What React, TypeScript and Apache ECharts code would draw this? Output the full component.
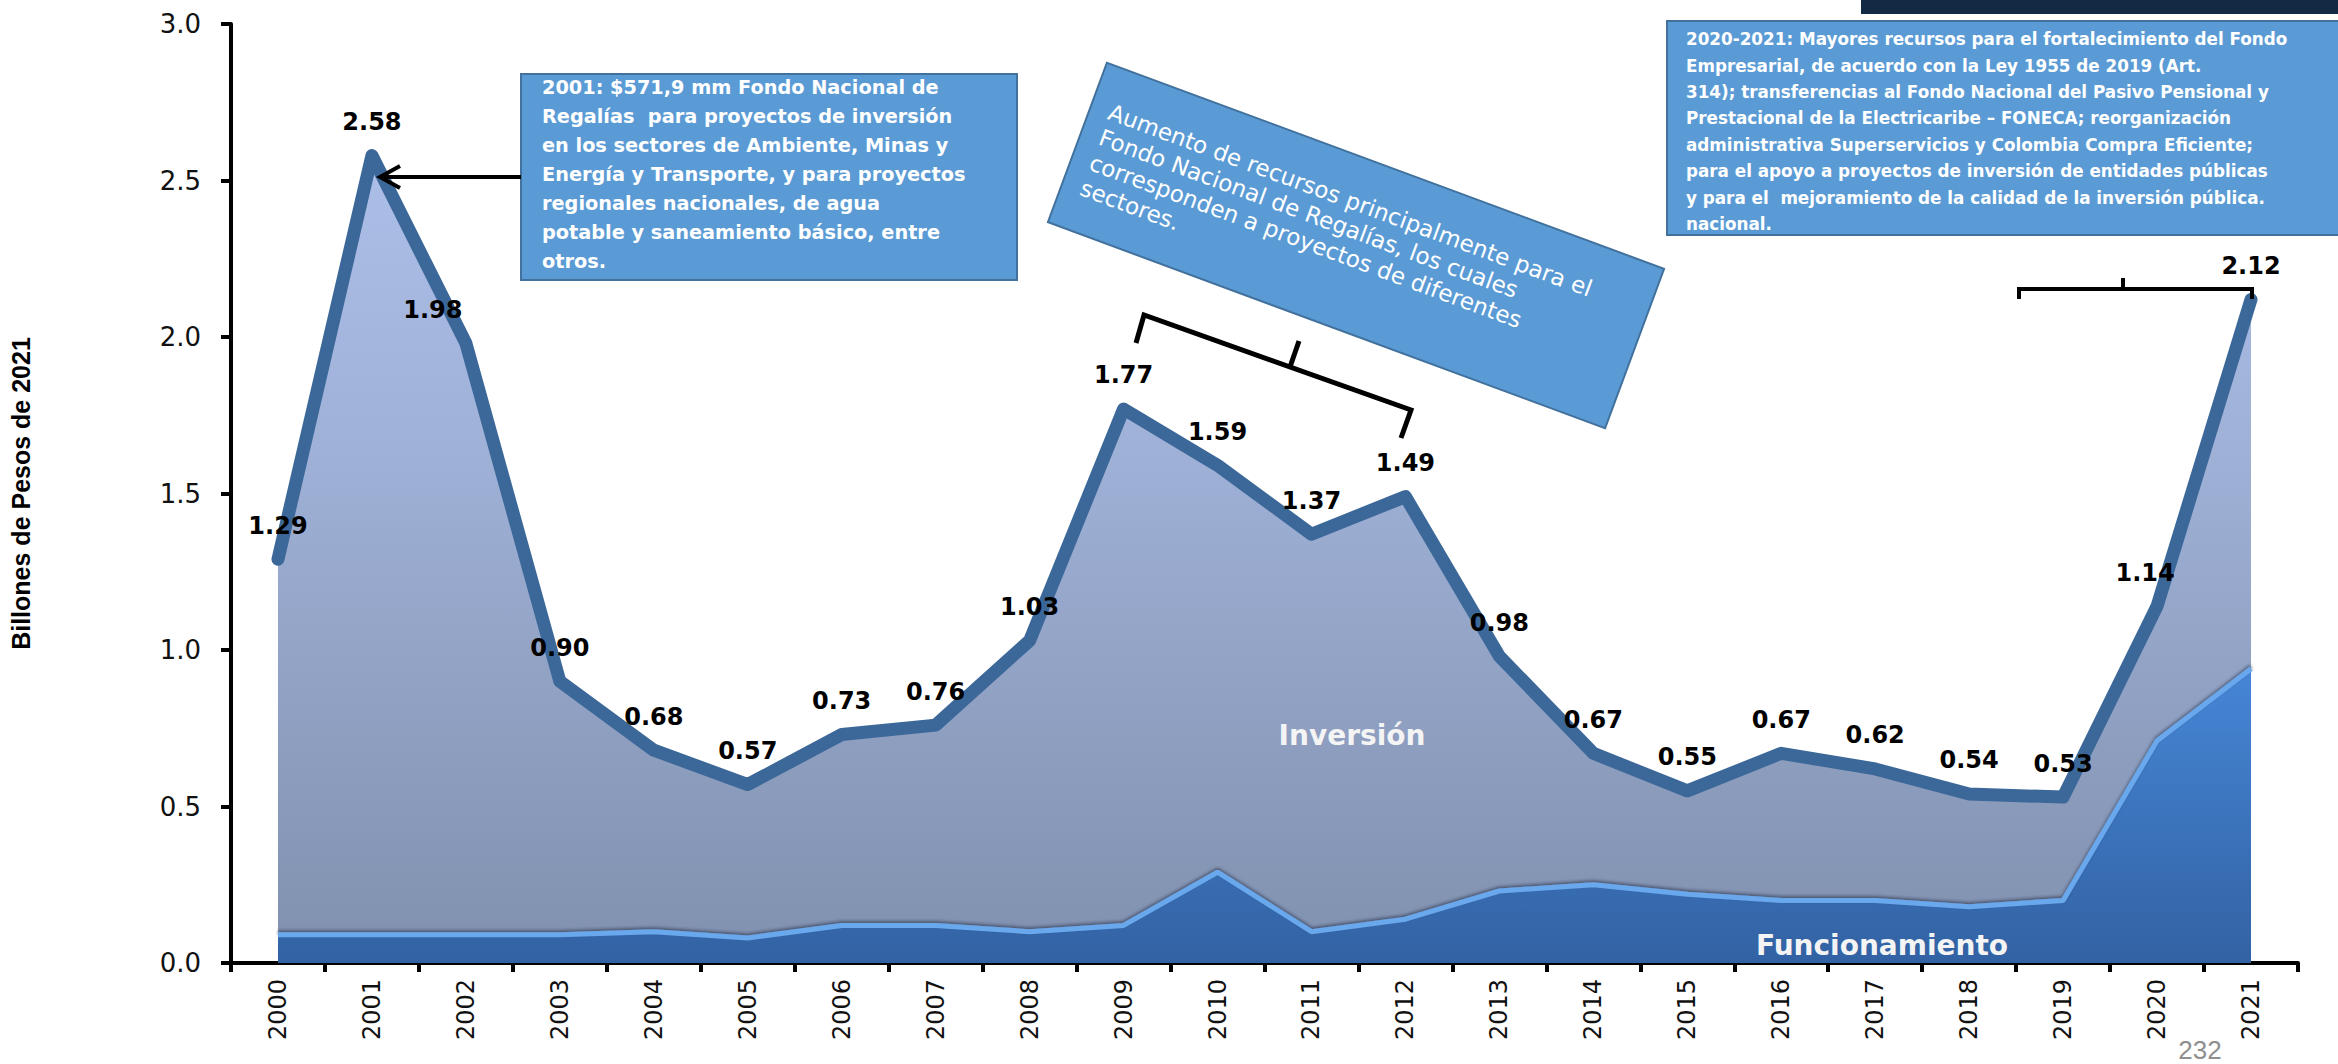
import React, { useEffect, useRef } from "react";
import * as echarts from "echarts";

const years = ["2000","2001","2002","2003","2004","2005","2006","2007","2008","2009","2010","2011","2012","2013","2014","2015","2016","2017","2018","2019","2020","2021"];
const totalValues = [1.29, 2.58, 1.98, 0.90, 0.68, 0.57, 0.73, 0.76, 1.03, 1.77, 1.59, 1.37, 1.49, 0.98, 0.67, 0.55, 0.67, 0.62, 0.54, 0.53, 1.14, 2.12];
const funcionamientoValues = [0.09, 0.09, 0.09, 0.09, 0.10, 0.08, 0.12, 0.12, 0.10, 0.12, 0.29, 0.10, 0.14, 0.23, 0.25, 0.22, 0.20, 0.20, 0.18, 0.20, 0.71, 0.94];
const inversionValues = [1.20, 2.49, 1.89, 0.81, 0.58, 0.49, 0.61, 0.64, 0.93, 1.65, 1.30, 1.27, 1.35, 0.75, 0.42, 0.33, 0.47, 0.42, 0.36, 0.33, 0.43, 1.18];
const yTicks = [0, 0.5, 1.0, 1.5, 2.0, 2.5, 3.0];

const yAxisTitle = "Billones de Pesos de 2021";
const box1Lines = [
  "2001: $571,9 mm Fondo Nacional de",
  "Regalías  para proyectos de inversión",
  "en los sectores de Ambiente, Minas y",
  "Energía y Transporte, y para proyectos",
  "regionales nacionales, de agua",
  "potable y saneamiento básico, entre",
  "otros.",
];
const box2Lines = [
  "Aumento de recursos principalmente para el",
  "Fondo Nacional de Regalías, los cuales",
  "corresponden a proyectos de diferentes",
  "sectores.",
];
const box3Lines = [
  "2020-2021: Mayores recursos para el fortalecimiento del Fondo",
  "Empresarial, de acuerdo con la Ley 1955 de 2019 (Art.",
  "314); transferencias al Fondo Nacional del Pasivo Pensional y",
  "Prestacional de la Electricaribe – FONECA; reorganización",
  "administrativa Superservicios y Colombia Compra Eficiente;",
  "para el apoyo a proyectos de inversión de entidades públicas",
  "y para el  mejoramiento de la calidad de la inversión pública.",
  "nacional.",
];

const labelOffsets: Record<number, number[]> = { 2: [-33, 0], 20: [-12, 0] };

const FONT = "DejaVu Sans";
const BOX_FILL = "#5b9bd5";
const BOX_STROKE = "#41719c";

export default function App() {
  const ref = useRef<HTMLDivElement>(null);
  useEffect(() => {
    document.body.style.margin = "0";
    const chart = echarts.init(ref.current!, null, { renderer: "svg", width: 2338, height: 1064 });

    const totalData = totalValues.map((v, i) =>
      labelOffsets[i] ? { value: v, label: { offset: labelOffsets[i] } } : v
    );

    const option: any = {
      animation: false,
      backgroundColor: "#ffffff",
      grid: { left: 223, right: 40, top: 24, bottom: 101, containLabel: false },
      xAxis: {
        type: "category",
        data: years,
        boundaryGap: true,
        axisLine: { show: true, lineStyle: { color: "#000", width: 4 } },
        axisTick: { show: true, length: 9, lineStyle: { color: "#000", width: 4 }, alignWithLabel: false },
        axisLabel: {
          interval: 0,
          rotate: 90,
          margin: 16,
          fontFamily: FONT,
          fontSize: 24,
          color: "#111",
        },
        splitLine: { show: false },
      },
      yAxis: {
        type: "value",
        min: 0,
        max: 3,
        interval: 0.5,
        name: yAxisTitle,
        nameLocation: "middle",
        nameRotate: 90,
        nameGap: 198,
        nameTextStyle: { fontFamily: "Liberation Sans", fontWeight: "bold", fontSize: 25, color: "#000" },
        axisLine: { show: true, lineStyle: { color: "#000", width: 4 } },
        axisTick: { show: true, length: 10, lineStyle: { color: "#000", width: 4 } },
        axisLabel: {
          margin: 30,
          fontFamily: FONT,
          fontSize: 26,
          color: "#111",
          formatter: (v: number) => (yTicks.includes(v) ? v.toFixed(1) : ""),
        },
        splitLine: { show: false },
      },
      series: [
        {
          name: "Funcionamiento",
          type: "line",
          stack: "total",
          z: 3,
          data: funcionamientoValues,
          symbol: "none",
          lineStyle: {
            color: "#6aa8ee",
            width: 5,
            shadowColor: "rgba(30,40,60,0.55)",
            shadowBlur: 3,
            shadowOffsetY: -2,
          },
          areaStyle: {
            opacity: 1,
            color: new echarts.graphic.LinearGradient(0, 670, 0, 963, [
              { offset: 0, color: "#4686d6" },
              { offset: 1, color: "#3262a3" },
            ], true),
          },
        },
        {
          name: "Inversión",
          type: "line",
          stack: "total",
          z: 2,
          data: inversionValues,
          symbol: "none",
          lineStyle: { width: 0 },
          areaStyle: {
            opacity: 1,
            color: new echarts.graphic.LinearGradient(0, 24, 0, 963, [
              { offset: 0, color: "#b2c5ef" },
              { offset: 0.45, color: "#9fb1d7" },
              { offset: 1, color: "#8090ae" },
            ], true),
          },
        },
        {
          name: "Total",
          type: "line",
          z: 5,
          data: totalData,
          symbol: "circle",
          symbolSize: 1,
          showSymbol: true,
          itemStyle: { color: "#3c6899" },
          lineStyle: { color: "#3c6899", width: 13, join: "round", cap: "round" },
          label: {
            show: true,
            position: "top",
            distance: 21,
            formatter: (p: any) => Number(p.value).toFixed(2),
            fontFamily: FONT,
            fontWeight: "bold",
            fontSize: 24,
            color: "#000",
          },
        },
      ],
      graphic: [
        { type: "rect", shape: { x: 1861, y: 0, width: 480, height: 14 }, style: { fill: "#132a44" }, z: 10 },
        {
          type: "rect",
          shape: { x: 1667, y: 21, width: 680, height: 214 },
          style: { fill: BOX_FILL, stroke: BOX_STROKE, lineWidth: 2 },
          z: 10,
        },
        {
          type: "text",
          x: 1686,
          y: 26,
          z: 11,
          style: {
            text: box3Lines.join("\n"),
            fill: "#fff",
            fontFamily: FONT,
            fontWeight: "bold",
            fontSize: 16.8,
            lineHeight: 26.4,
            verticalAlign: "top",
            align: "left",
          },
        },
        {
          type: "rect",
          shape: { x: 521, y: 74, width: 496, height: 206 },
          style: { fill: BOX_FILL, stroke: BOX_STROKE, lineWidth: 2 },
          z: 10,
        },
        {
          type: "text",
          x: 542,
          y: 73,
          z: 11,
          style: {
            text: box1Lines.join("\n"),
            fill: "#fff",
            fontFamily: FONT,
            fontWeight: "bold",
            fontSize: 19.3,
            lineHeight: 29,
            verticalAlign: "top",
            align: "left",
          },
        },
        { type: "line", shape: { x1: 521, y1: 177, x2: 381, y2: 177 }, style: { stroke: "#000", lineWidth: 4 }, z: 10 },
        {
          type: "polyline",
          shape: { points: [[400, 166], [380, 177], [400, 188]] },
          style: { stroke: "#000", lineWidth: 4, fill: null },
          z: 10,
        },
        {
          type: "group",
          x: 1356,
          y: 245.5,
          rotation: -0.354,
          z: 10,
          children: [
            {
              type: "rect",
              shape: { x: -297, y: -85, width: 594, height: 170 },
              style: { fill: BOX_FILL, stroke: BOX_STROKE, lineWidth: 2 },
              z: 10,
            },
            {
              type: "text",
              x: -278,
              y: -85 + 31,
              z: 11,
              style: {
                text: box2Lines.join("\n"),
                fill: "#fff",
                fontFamily: FONT,
                fontWeight: 500,
                fontSize: 23,
                lineHeight: 27,
                verticalAlign: "top",
                align: "left",
              },
            },
          ],
        },
        {
          type: "polyline",
          shape: { points: [[1136, 343], [1144, 315], [1411, 410], [1401, 438]] },
          style: { stroke: "#000", lineWidth: 5, fill: null },
          z: 10,
        },
        { type: "line", shape: { x1: 1290, y1: 367, x2: 1299, y2: 341 }, style: { stroke: "#000", lineWidth: 5 }, z: 10 },
        {
          type: "polyline",
          shape: { points: [[2019, 299], [2019, 289], [2252, 289], [2252, 299]] },
          style: { stroke: "#000", lineWidth: 4, fill: null },
          z: 10,
        },
        { type: "line", shape: { x1: 2123, y1: 289, x2: 2123, y2: 278 }, style: { stroke: "#000", lineWidth: 4 }, z: 10 },
        {
          type: "text",
          x: 1352,
          y: 735,
          z: 10,
          style: {
            text: "Inversión",
            fill: "#f4f4f4",
            fontFamily: FONT,
            fontWeight: "bold",
            fontSize: 28,
            align: "center",
            verticalAlign: "middle",
          },
        },
        {
          type: "text",
          x: 1882,
          y: 945,
          z: 10,
          style: {
            text: "Funcionamiento",
            fill: "#f4f4f4",
            fontFamily: FONT,
            fontWeight: "bold",
            fontSize: 28,
            align: "center",
            verticalAlign: "middle",
          },
        },
        {
          type: "text",
          x: 2200,
          y: 1050,
          z: 10,
          style: {
            text: "232",
            fill: "#8f8f8f",
            fontFamily: "Liberation Sans Narrow, Liberation Sans",
            fontSize: 26,
            align: "center",
            verticalAlign: "middle",
          },
        },
      ],
    };

    chart.setOption(option);
    return () => chart.dispose();
  }, []);

  return <div ref={ref} style={{ width: 2338, height: 1064, display: "block" }} />;
}
